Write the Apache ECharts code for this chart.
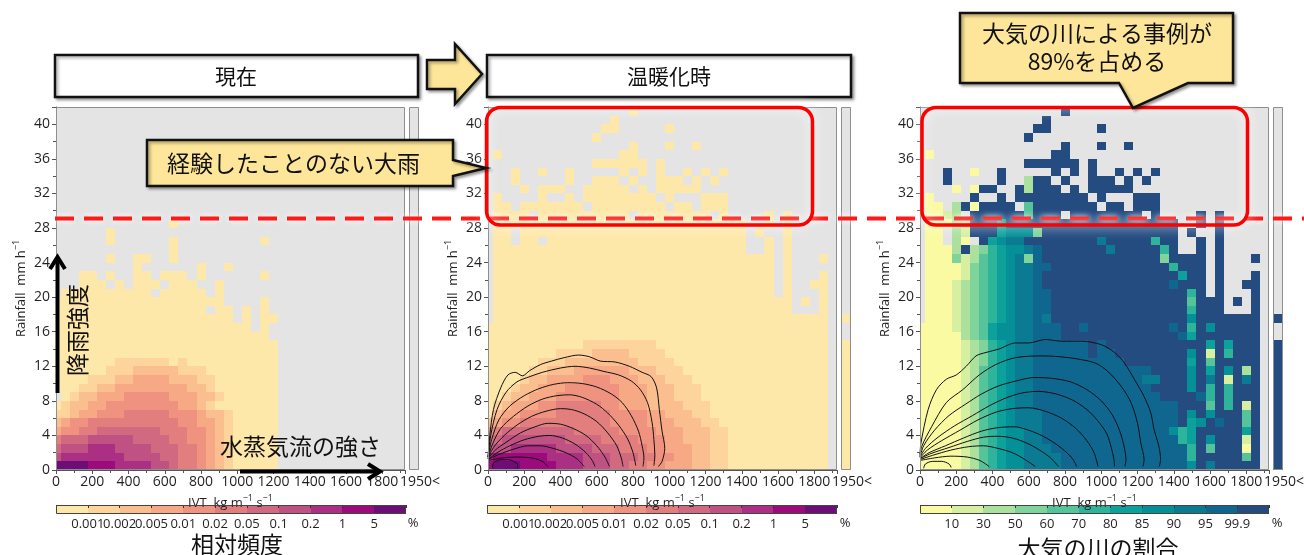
<!DOCTYPE html>
<html lang="ja">
<head>
<meta charset="utf-8">
<title>IVT - Rainfall</title>
<script src="https://cdn.jsdelivr.net/npm/echarts@6.0.0/dist/echarts.min.js"></script>
<style>
html,body{margin:0;padding:0;background:#ffffff;}
#chart{width:1304px;height:555px;}
</style>
</head>
<body>
<div id="chart"></div>
<script>
// ================= DATA =================
// IVT bin centres (kg m-1 s-1), 50-wide bins
const ivtBins = [0,50,100,150,200,250,300,350,400,450,500,550,600,650,700,750,800,850,900,950,
  1000,1050,1100,1150,1200,1250,1300,1350,1400,1450,1500,1550,1600,1650,1700,1750,1800,1850,1900];
const ivtMax = 1925;
// rainfall bins (lower edge, mm/h), 1-wide
const rainBins = [0,1,2,3,4,5,6,7,8,9,10,11,12,13,14,15,16,17,18,19,20,21,22,23,24,25,26,27,28,29,30,31,32,33,34,35,36,37,38,39,40,41];
const rainMax = 42;
const overflowBin = ['1950<'];

// colour-class tick labels
const freqLabels = ['0.001','0.002','0.005','0.01','0.02','0.05','0.1','0.2','1','5'];
const arLabels   = ['10','30','50','60','70','80','85','90','95','99.9'];
const colorbarLevels = [0,1,2,3,4,5,6,7,8,9,10];

// binned classes, rows from rain 41 (top) to rain 0 (bottom); one char per IVT bin
// '.' = no case, '0'..'9','a'(=10) = colour class
const presentRows = [
 '','','','','','','','','','','','','',
 '.....|.....|...0',
 '.....|.0',
 '.....|.0...|...0.|.....|...0',
 '.....|.....|...0',
 '.....|.0..0|0..0',
 '.....|....0|.....|.0..0',
 '...00|.0..0|0.000|.0...|...0',
 '...00|0.0.0|00.00|0..0',
 '.0000|00000|0.000|00.0',
 '00000|00000|00000|0000.|...0',
 '00000|00000|00000|00.00|.0.0',
 '00000|00000|00000|00000|.0.00',
 '00000|00000|00000|00000|00.0',
 '00000|00000|00000|00000|0000',
 '00000|00000|00000|00000|00000',
 '00000|00000|00000|00000|00000',
 '00000|00111|11101|00000|00000',
 '00000|01112|22221|11000|00000',
 '00001|11223|33322|21100|00000',
 '00011|22333|33333|22100|00000',
 '.0122|33344|44433|32210|00000',
 '01223|34444|44443|32100|00000',
 '11233|44455|55544|43221|00000',
 '23445|55555|55554|43321|00000',
 '34455|66666|66555|44321|00000',
 '56667|77776|66655|44321|00000',
 '67778|88777|76665|54321|00000',
 '78888|88877|77665|54321|00000',
 'aaaa9|99888|87765|54321|00000'
];
const futureRows = [
 '.....|.....|.....|.0',
 '.....|.....|....0',
 '.....|.....|...00|.....|0',
 '.....|.....|..0',
 '.....|.....|.....|.0...|0..0',
 '.0...|.....|.....|00',
 '.....|.....|..000|000.0',
 '...0.|.0..0|.....|0.0.0|..0.0|.0',
 '...0.|....0|..000|.0..0|00.0.|0',
 '....0|.000.|.0000|0.0.0|0000.',
 '.0...|.0..0|.0000|0000.|0...0|00',
 '.00.0|00000|0.000|00000|.00.0|00',
 '.0000|.0000|00000|0.000|00000|.0...|.0.0.',
 '.0000|00000|00000|00000|00000|0000.|.0.0.',
 '.00.0|00000|00000|00000|00000|0000.|0..0.',
 '.00.0|0.000|00000|00000|00000|0000.|.0.0.',
 '.0000|00000|00000|00000|00000|0000.|.0.0.',
 '.0000|00000|00000|00000|00000|00000|00.0.|..0.',
 '.0000|00000|00000|00000|00000|00000|00.0.',
 '.0000|00000|00000|00000|00000|00000|00.0.|..0.',
 '.0000|00000|00000|00000|00000|00000|00.0.|.00.',
 '.0000|00000|00000|00000|00000|00000|00.0.|..0.',
 '.0000|00000|00000|00000|00000|00000|0000.|0.0.',
 '.0000|00000|00000|00000|00000|00000|0000.|..0.',
 '.0000|00000|00000|00000|00000|00000|00000|000.',
 '00000|00000|00000|00000|00000|00000|00000|000.',
 '00000|00000|00000|00000|00000|00000|00000|000.',
 '00000|00000|01111|11110|00000|00000|00000|000.',
 '00000|00011|11222|21111|00000|00000|00000|000.',
 '00000|01112|22222|22111|10000|00000|00000|000.',
 '00000|11222|33333|32221|11000|00000|00000|000.',
 '00001|22333|34443|33222|11100|00000|00000|000.',
 '00012|23334|44444|33322|21110|00000|00000|000.',
 '00122|33344|44444|33322|21110|00000|00000|000.',
 '01233|34455|55544|33322|22111|00000|00000|000.',
 '02334|44455|55554|44433|22211|00000|00000|000.',
 '23445|55555|55554|44433|32221|10000|00000|000.',
 '45666|66666|55555|44443|33222|11000|00000|000.',
 '56777|77776|66655|55444|33222|11000|00000|000.',
 '67788|88877|77666|55544|33322|11000|00000|000.',
 '89999|99888|87776|66554|43322|11000|00000|000.',
 '9aaa9|99988|87776|65544|33322|11000|00000|000.'
];
const arRows = [
 '.....|.....|.....|.a',
 '.....|.....|....a',
 '.....|.....|...aa|.....|a',
 '.....|.....|..a',
 '.....|.....|.....|.a...|a..a',
 '.0...|.....|.....|aa',
 '.....|.....|..aaa|aaa.a',
 '...a.|.0..a|.....|a.a.a|..a.a|.a',
 '...a.|....a|..2aa|.a..a|aa.a.|a',
 '....0|.0aa.|.a2aa|a.a.a|aaaa.',
 '.0...|.a..a|.aaaa|aaaa.|a...a|aa',
 '.00.2|a0aaa|a.4aa|aaaaa|.aa.a|aa',
 '.0012|.aaaa|aa4aa|a.aaa|aaaaa|.a...|.a.a.',
 '.0002|2aaa6|aaaaa|aaaaa|aaaaa|aaaa.|.a.a.',
 '.00.2|1aaa6|7773a|aaaaa|aaaaa|aaaa.|a..a.',
 '.00.2|0.a67|88aaa|aaaaa|8aaaa|a5aa.|.a.a.',
 '.0002|a2356|7789a|aaaaa|a8aaa|aa5a.|.a.a.',
 '.0003|12456|7839a|aaaaa|aaaaa|aa3aa|aa.a.|..a.',
 '.0000|13456|78899|aaaaa|aaaaa|aaa5a|aa.a.',
 '.0000|13456|7889a|aaaaa|aaaaa|aaaa6|aa.a.|..a.',
 '.0001|23456|7889a|aaaaa|aaaaa|aaa9a|aa.a.|.aa.',
 '.0001|23456|78899|aaaaa|aaaaa|aaaaa|5a.a.|..a.',
 '.0001|23456|78899|aaaaa|aaaaa|aaaaa|4aaa.|a.a.',
 '.0001|23456|78899|aaaaa|aaaaa|aaaaa|5aaa.|..a.',
 '.0001|23456|78898|aaaaa|aaaaa|aaaaa|7aaaa|aaa.',
 '00001|23467|78899|9aa9a|aaaaa|aaa9a|5a7aa|aaa.',
 '00000|23467|78899|9aaaa|aaaaa|aaaa9|6aaaa|aaa.',
 '00000|12356|78899|9999a|9aaaa|aaaaa|aa6a6|aaa.',
 '00000|12356|78899|9999a|99aaa|aaaaa|7a1a5|aaa.',
 '00000|12356|78899|99999|999aa|aaaaa|6a4aa|aaa.',
 '00000|12456|78899|99999|99999|9aaaa|7a6a7|a2a.',
 '00000|12456|78899|99999|99999|88aaa|7a8a1|a8a.',
 '00000|12456|78899|99999|99999|9aaaa|7a5a5|aaa.',
 '00000|12456|78899|99999|99999|99aaa|a95a5|aaa.',
 '00000|12456|78899|99999|99999|9999a|aa4a5|a1a.',
 '00000|12456|78889|99999|99999|9999a|7a7aa|a4a.',
 '00000|12456|78889|99999|99999|9999a|67a9a|a4a.',
 '00000|12456|77889|99999|99999|99975|6aaaa|a6a.',
 '00000|12456|77889|99999|99999|99995|6a7aa|a1a.',
 '00000|12456|77888|99999|99999|99999|5a4aa|a0a.',
 '00000|12456|77888|89999|99999|99999|5aaaa|a4a.',
 '00000|12456|77888|89999|99999|99999|7a8aa|aaa.'
];
// IVT > 1950 column, rain 41 (left) .. rain 0 (right)
const presentOver = '..........|..........|..........|..........|..';
const futureOver  = '..........|..........|....0..000|000000000000';
const arOver      = '..........|..........|....a..aaa|aaaaaaaaaaaa';

// contour lines [IVT, rainfall]: present-climate frequency (drawn on the warming panel)
const presentContours = [
 [[0,1.5],[10,4],[30,7],[70,9.5],[110,11.0],[150,11.3],[190,10.9],[230,11.5],[290,12.2],[350,12.6],[420,13.0],[500,13.3],[560,13.1],[620,12.6],[700,12.5],[780,12.0],[850,11.3],[900,10.8],[930,9.5],[945,7],[960,4.5],[975,2.5],[960,1.0],[940,0.4]],
 [[0,1.5],[15,4],[50,7],[100,9],[160,10.2],[230,10.8],[300,11.3],[400,11.8],[480,12.0],[560,11.8],[640,11.4],[720,11.0],[790,10.3],[840,9.3],[880,7.8],[905,5.5],[915,3.5],[920,1.8],[915,0.5]],
 [[0,1.5],[20,3.5],[60,5.8],[120,7.4],[200,8.6],[280,9.4],[360,9.9],[440,10.1],[520,10.0],[600,9.6],[680,8.8],[740,7.8],[790,6.3],[830,4.5],[850,2.8],[860,1.4],[855,0.4]],
 [[0,1.4],[25,3.0],[70,4.8],[140,6.2],[220,7.4],[300,8.2],[380,8.6],[450,8.7],[520,8.4],[600,7.6],[660,6.6],[720,5.2],[770,3.6],[800,2.0],[815,0.5]],
 [[0,1.3],[30,2.6],[90,4.0],[160,5.2],[240,6.2],[320,6.8],[400,7.1],[460,7.0],[530,6.5],[600,5.6],[660,4.3],[710,2.8],[735,1.4],[745,0.4]],
 [[0,1.3],[40,2.3],[100,3.2],[180,4.3],[260,5.0],[330,5.4],[400,5.3],[470,4.8],[540,4.0],[600,2.8],[645,1.5],[670,0.4]],
 [[0,1.2],[50,2.0],[120,2.8],[200,3.5],[280,3.9],[340,4.0],[410,3.7],[480,3.0],[540,2.0],[575,1.1],[590,0.4]],
 [[0,1.2],[60,1.8],[140,2.4],[220,2.8],[290,2.8],[360,2.5],[430,2.0],[490,1.3],[530,0.4]],
 [[0,1.1],[80,1.4],[160,1.5],[240,1.4],[300,1.0],[330,0.4]],
 [[25,0.2],[30,0.8],[60,1.15],[110,1.2],[150,0.9],[165,0.5],[160,0.2]]
];
// warming-climate frequency contours (drawn on the AR-fraction panel)
const futureContours = [
 [[0,1.8],[5,3.1],[45,7.0],[91,9.3],[145,10.5],[200,11.0],[255,12.0],[309,13.2],[364,13.6],[436,14.0],[527,14.7],[600,14.7],[691,15.1],[782,14.9],[891,14.9],[1000,14.5],[1073,13.6],[1127,12.4],[1182,10.5],[1236,8.5],[1273,6.6],[1291,4.7],[1318,2.7],[1327,1.2],[1320,0.4]],
 [[0,1.6],[9,2.7],[64,5.0],[145,7.8],[236,9.3],[327,11.0],[418,12.2],[527,13.0],[673,13.2],[818,13.0],[964,12.4],[1036,11.4],[1109,9.7],[1164,7.8],[1200,5.4],[1218,3.1],[1236,1.2],[1230,0.4]],
 [[0,1.5],[20,2.8],[80,4.6],[160,6.3],[250,7.6],[340,8.8],[430,9.7],[530,10.3],[630,10.7],[730,10.6],[830,10.2],[920,9.3],[1000,8.0],[1060,6.4],[1100,4.6],[1125,2.8],[1136,1.2],[1130,0.4]],
 [[0,1.5],[30,2.5],[100,3.8],[190,5.1],[290,6.3],[380,7.4],[470,8.3],[560,8.9],[650,9.1],[750,8.8],[840,8.1],[920,7.0],[980,5.7],[1030,4.2],[1055,2.6],[1070,1.2],[1073,0.4]],
 [[0,1.4],[40,2.3],[120,3.4],[220,4.6],[320,5.8],[420,6.7],[510,7.1],[600,7.2],[690,6.8],[780,6.0],[860,4.8],[920,3.4],[960,2.0],[982,0.4]],
 [[0,1.3],[50,2.0],[140,2.8],[240,3.7],[340,4.5],[430,4.9],[520,5.0],[600,4.6],[680,3.9],[750,3.0],[810,2.0],[845,1.2],[864,0.4]],
 [[0,1.3],[60,1.9],[160,2.6],[260,3.3],[350,3.8],[430,3.9],[510,3.7],[590,3.1],[660,2.3],[720,1.4],[764,0.4]],
 [[0,1.2],[70,1.7],[170,2.3],[270,2.7],[350,2.8],[430,2.5],[510,2.0],[580,1.2],[636,0.4]],
 [[0,1.1],[80,1.4],[170,1.6],[260,1.5],[330,1.1],[382,0.4]],
 [[20,0.2],[30,0.7],[70,1.0],[120,1.0],[160,0.7],[172,0.3]]
];

// ================= STYLE =================
const freqColors = ['#fee8a9','#fdd49c','#fbbf8f','#f7a985','#ef9380','#e27e7e','#d16a80','#bf5283','#ab2f83','#9b0b7e','#6c0d78'];
const arColors   = ['#fafaa2','#d6efa1','#abe19c','#80d39b','#56c49b','#2eb49b','#0ca29b','#058f97','#0a7b93','#0f6790','#244c81'];
const FONT = "'Open Sans','Noto Sans',sans-serif";
const JP = "'Noto Sans CJK JP','Noto Sans',sans-serif";
const TXT = '#231f20';
const AX = '#555555';

const mainGrids = [
  {left:56, top:107, width:349, height:363},
  {left:488, top:107, width:349, height:363},
  {left:920, top:107, width:349, height:363}
];
const overGrids = [
  {left:409, top:107, width:10, height:363},
  {left:841, top:107, width:10, height:363},
  {left:1273, top:107, width:10, height:363}
];
const cbGrids = [
  {left:56, top:505, width:350, height:9},
  {left:487, top:505, width:350, height:9},
  {left:920, top:505, width:349, height:9}
];

// ================= HELPERS =================
function cellData(rows, xs) {
  const out = [];
  const n = rows.length;
  rows.forEach((s, k) => {
    const r = s.replace(/\|/g, '').padEnd(xs.length, '.');
    const rain = rainBins[n - 1 - k];
    for (let i = 0; i < xs.length; i++) {
      const ch = r[i];
      if (ch === '.') continue;
      out.push([xs[i], rain, ch === 'a' ? 10 : Number(ch)]);
    }
  });
  return out;
}
function overData(str) {
  const s = str.replace(/\|/g, '');
  const out = [];
  for (let k = 0; k < s.length; k++) {
    const ch = s[k];
    if (ch === '.') continue;
    out.push([0.5, rainBins[s.length - 1 - k], ch === 'a' ? 10 : Number(ch)]);
  }
  return out;
}
function cellRenderer(colors, half) {
  return function (params, api) {
    const x = api.value(0), y = api.value(1), lv = api.value(2);
    const a = api.coord([x - half, y + 1]);
    const b = api.coord([x + half, y]);
    const cs = params.coordSys;
    const shape = echarts.graphic.clipRectByRect(
      {x: a[0], y: a[1], width: b[0] - a[0], height: b[1] - a[1]},
      {x: cs.x, y: cs.y, width: cs.width, height: cs.height});
    if (!shape) return null;
    const x0 = Math.round(shape.x), y0 = Math.round(shape.y);
    const x1 = Math.round(shape.x + shape.width), y1 = Math.round(shape.y + shape.height);
    return {type: 'rect', shape: {x: x0, y: y0, width: x1 - x0, height: y1 - y0},
      style: {fill: colors[lv], stroke: null}};
  };
}
const supRich = {
  a: {fontFamily: FONT, fontSize: 13, color: TXT, lineHeight: 18},
  s: {fontFamily: FONT, fontSize: 9, color: TXT, verticalAlign: 'top', lineHeight: 10}
};
function mainX(g) {
  return {gridIndex: g, type: 'value', min: 0, max: ivtMax, interval: 200, z: 10,
    name: '{a|IVT  kg m}{s|−1}{a| s}{s|−1}', nameLocation: 'middle', nameGap: 18,
    nameTextStyle: {fontSize: 13, fontFamily: FONT, color: TXT, rich: supRich},
    axisLine: {show: true, onZero: false, lineStyle: {color: AX, width: 1}},
    axisTick: {show: true, length: 4, lineStyle: {color: AX}},
    minorTick: {show: true, splitNumber: 2, length: 3, lineStyle: {color: AX}},
    splitLine: {show: false}, minorSplitLine: {show: false},
    axisLabel: {fontFamily: FONT, fontSize: 14, color: TXT, margin: 5, showMaxLabel: false,
      formatter: v => String(v)}};
}
function mainY(g) {
  return {gridIndex: g, type: 'value', min: 0, max: rainMax, interval: 4, z: 10,
    name: '{a|Rainfall  mm h}{s|−1}', nameLocation: 'middle', nameGap: 26, nameRotate: 90,
    nameTextStyle: {fontSize: 13, fontFamily: FONT, color: TXT, rich: supRich},
    axisLine: {show: true, onZero: false, lineStyle: {color: AX, width: 1}},
    axisTick: {show: true, length: 4, lineStyle: {color: AX}},
    minorTick: {show: true, splitNumber: 2, length: 3, lineStyle: {color: AX}},
    splitLine: {show: false}, minorSplitLine: {show: false},
    axisLabel: {fontFamily: FONT, fontSize: 14, color: TXT, margin: 6, showMaxLabel: false,
      formatter: v => (v > 40 ? '' : String(v))}};
}
function overX(g) {
  return {gridIndex: g, type: 'value', min: 0, max: 1, interval: 0.5, z: 10,
    axisLine: {show: false}, axisTick: {show: false}, splitLine: {show: false},
    axisLabel: {fontFamily: FONT, fontSize: 14, color: TXT, margin: 5, showMinLabel: true, showMaxLabel: true,
      hideOverlap: false,
      formatter: v => (Math.abs(v - 0.5) < 1e-6 ? '{p|' + overflowBin[0] + '}' : ''),
      rich: {p: {fontFamily: FONT, fontSize: 14, color: TXT, padding: [0, 0, 0, 12]}}}};
}
function overY(g) { return {gridIndex: g, type: 'value', min: 0, max: rainMax, show: false}; }
function cbX(g, labels) {
  return {gridIndex: g, type: 'value', min: 0, max: 11, interval: 1,
    axisLine: {show: false}, axisTick: {show: false}, splitLine: {show: false},
    axisLabel: {fontFamily: FONT, fontSize: 13, color: TXT, margin: 4,
      formatter: v => { const i = Math.round(v); return (i >= 1 && i <= 10) ? labels[i - 1] : ''; }}};
}
function cbXTop(g) {
  return {gridIndex: g, type: 'value', position: 'top', min: 0, max: 11, interval: 1, z: 10,
    axisLine: {show: false}, axisLabel: {show: false}, splitLine: {show: false},
    axisTick: {show: true, inside: true, length: 3, lineStyle: {color: '#333'}}};
}
function cbY(g) { return {gridIndex: g, type: 'value', min: 0, max: 1, show: false}; }

// ================= SERIES =================
const series = [];
const mainData = [cellData(presentRows, ivtBins), cellData(futureRows, ivtBins), cellData(arRows, ivtBins)];
const mainColors = [freqColors, freqColors, arColors];
for (let g = 0; g < 3; g++) {
  series.push({type: 'custom', xAxisIndex: g, yAxisIndex: g, data: mainData[g], silent: true,
    renderItem: cellRenderer(mainColors[g], 25), z: 2});
}
const overSets = [overData(presentOver), overData(futureOver), overData(arOver)];
for (let g = 0; g < 3; g++) {
  series.push({type: 'custom', xAxisIndex: 3 + g, yAxisIndex: 3 + g, data: overSets[g], silent: true,
    renderItem: cellRenderer(mainColors[g], 0.5), z: 2});
}
const cbColors = [freqColors, freqColors, arColors];
for (let g = 0; g < 3; g++) {
  series.push({type: 'custom', xAxisIndex: 6 + g, yAxisIndex: 6 + g, silent: true,
    data: colorbarLevels.map(l => [l + 0.5, 0, l]),
    renderItem: cellRenderer(cbColors[g], 0.5), z: 2});
}
presentContours.forEach(pts => series.push({type: 'line', xAxisIndex: 1, yAxisIndex: 1, data: pts,
  symbol: 'none', smooth: 0.3, silent: true, z: 5, lineStyle: {color: '#111', width: 1}}));
futureContours.forEach(pts => series.push({type: 'line', xAxisIndex: 2, yAxisIndex: 2, data: pts,
  symbol: 'none', smooth: 0.3, silent: true, z: 5, lineStyle: {color: '#111', width: 1}}));

// ================= ANNOTATIONS =================
const shadowStyle = {shadowBlur: 3, shadowOffsetX: 2, shadowOffsetY: 2, shadowColor: 'rgba(0,0,0,0.35)'};
const graphics = [];
mainGrids.concat(overGrids).forEach(r => graphics.push({type: 'rect', z: 20, silent: true,
  shape: {x: r.left + 0.5, y: r.top + 0.5, width: r.width - 1, height: r.height - 1},
  style: {fill: null, stroke: '#8f8f8f', lineWidth: 1}}));
cbGrids.forEach(r => graphics.push({type: 'rect', z: 20, silent: true,
  shape: {x: r.left + 0.5, y: r.top + 0.5, width: r.width - 1, height: r.height - 1},
  style: {fill: null, stroke: '#444', lineWidth: 1}}));
function txt(x, y, text, size, align, extra) {
  return Object.assign({type: 'text', x: x, y: y, z: 70, silent: true,
    style: {text: text, fill: '#111', font: size + 'px ' + JP, fontSize: size, fontFamily: JP,
      align: align || 'center', textAlign: align || 'center', verticalAlign: 'middle', textVerticalAlign: 'middle'}}, extra || {});
}
// title boxes
graphics.push({type: 'rect', z: 50, shape: {x: 55, y: 55, width: 363, height: 42},
  style: Object.assign({fill: '#fff', stroke: '#111', lineWidth: 2.5}, shadowStyle)});
graphics.push(txt(236, 76, '現在', 21));
graphics.push({type: 'rect', z: 50, shape: {x: 487, y: 55, width: 364, height: 42},
  style: Object.assign({fill: '#fff', stroke: '#111', lineWidth: 2.5}, shadowStyle)});
graphics.push(txt(669, 76, '温暖化時', 21));
// block arrow
graphics.push({type: 'polygon', z: 50, shape: {points: [[427,60],[455,60],[455,44],[482,74],[455,104],[455,89],[427,89]]},
  style: Object.assign({fill: '#fde699', stroke: '#111', lineWidth: 2.5}, shadowStyle)});
// red dashed threshold line
graphics.push({type: 'line', z: 60, silent: true, shape: {x1: 55, y1: 218.5, x2: 1304, y2: 218.5},
  style: {stroke: '#ff1a1a', lineWidth: 4, lineDash: [19, 10], shadowBlur: 6, shadowColor: '#ffffff'}});
// red rounded boxes
[[486.5, 107.5, 326, 117.5], [922, 107.5, 325.5, 117.5]].forEach(b => graphics.push({type: 'rect', z: 61, silent: true,
  shape: {x: b[0], y: b[1], width: b[2], height: b[3], r: 14},
  style: {fill: null, stroke: '#ff0000', lineWidth: 3.5, shadowBlur: 12, shadowColor: '#ffffff'}}));
// callout 1
graphics.push({type: 'polygon', z: 65, shape: {points: [[147,140],[453,140],[453,160],[486,168],[453,176],[453,186],[147,186]]},
  style: Object.assign({fill: '#fde699', stroke: '#111', lineWidth: 2.5}, shadowStyle)});
graphics.push(txt(167, 163, '経験したことのない大雨', 23, 'left'));
// callout 2
graphics.push({type: 'polygon', z: 65, shape: {points: [[960,13],[1233,13],[1233,83],[1188,83],[1133,108],[1119,83],[960,83]]},
  style: Object.assign({fill: '#fde699', stroke: '#111', lineWidth: 2.5}, shadowStyle)});
graphics.push(txt(1097, 33, '大気の川による事例が', 23));
graphics.push(txt(1097, 61, '89%を占める', 23));
// black arrows in panel 1
graphics.push({type: 'line', z: 66, silent: true, shape: {x1: 57.5, y1: 393, x2: 57.5, y2: 259}, style: {stroke: '#000', lineWidth: 4}});
graphics.push({type: 'polyline', z: 66, silent: true, shape: {points: [[50,269],[57.5,257],[65,269]]}, style: {stroke: '#000', lineWidth: 4, fill: null}});
graphics.push(txt(77, 330, '降雨強度', 23, 'center', {rotation: Math.PI / 2}));
graphics.push({type: 'line', z: 66, silent: true, shape: {x1: 240, y1: 471.5, x2: 378, y2: 471.5}, style: {stroke: '#000', lineWidth: 4}});
graphics.push({type: 'polyline', z: 66, silent: true, shape: {points: [[368,464],[380,471.5],[368,479]]}, style: {stroke: '#000', lineWidth: 4, fill: null}});
graphics.push(txt(220, 446, '水蒸気流の強さ', 23, 'left'));
// colour bar titles and units
graphics.push(txt(237, 544, '相対頻度', 23));
graphics.push(txt(1098, 548, '大気の川の割合', 23));
[[413, 523], [845, 523], [1277, 523]].forEach(p => graphics.push({type: 'text', x: p[0], y: p[1], z: 70, silent: true,
  style: {text: '%', fill: TXT, font: '13px ' + FONT, fontSize: 13, fontFamily: FONT,
    align: 'center', textAlign: 'center', verticalAlign: 'middle', textVerticalAlign: 'middle'}}));

// ================= OPTION =================
const allGrids = mainGrids.concat(overGrids, cbGrids).map(r => Object.assign({
  show: true, backgroundColor: '#e4e4e4', borderWidth: 0, containLabel: false, outerBoundsMode: 'none'}, r));
for (let i = 6; i < 9; i++) allGrids[i].backgroundColor = 'transparent';

const option = {
  animation: false,
  backgroundColor: '#ffffff',
  textStyle: {fontFamily: FONT},
  grid: allGrids,
  xAxis: [mainX(0), mainX(1), mainX(2), overX(3), overX(4), overX(5),
    cbX(6, freqLabels), cbX(7, freqLabels), cbX(8, arLabels), cbXTop(6), cbXTop(7), cbXTop(8)],
  yAxis: [mainY(0), mainY(1), mainY(2), overY(3), overY(4), overY(5), cbY(6), cbY(7), cbY(8)],
  series: series,
  graphic: graphics
};
const chart = echarts.init(document.getElementById('chart'), null, {renderer: 'canvas'});
chart.setOption(option);
</script>
</body>
</html>
